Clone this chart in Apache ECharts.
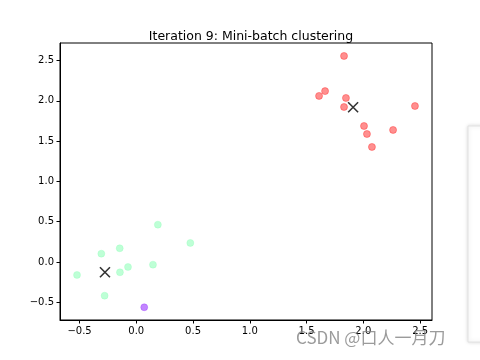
<!DOCTYPE html>
<html><head><meta charset="utf-8">
<script src="https://cdn.jsdelivr.net/npm/echarts@6/dist/echarts.min.js"></script>
<style>html,body{margin:0;padding:0;background:#fff}#c{width:480px;height:360px}</style>
</head><body><div id="c"></div>
<script>
var titleText = 'Iteration 9: Mini-batch clustering';
var xTicks = [-0.5, 0.0, 0.5, 1.0, 1.5, 2.0, 2.5];
var yTicks = [-0.5, 0.0, 0.5, 1.0, 1.5, 2.0, 2.5];
var redPoints = [[1.83,2.556],[1.663,2.12],[1.61,2.06],[1.847,2.035],[1.83,1.923],[2.006,1.687],[2.032,1.588],[2.076,1.427],[2.262,1.638],[2.455,1.935]];
var greenPoints = [[0.19,0.463],[0.476,0.236],[-0.308,0.103],[-0.146,0.17],[-0.073,-0.062],[-0.144,-0.128],[0.147,-0.033],[-0.522,-0.161],[-0.279,-0.418]];
var purplePoints = [[0.07,-0.562]];
var centroids = [[1.91,1.92],[-0.276,-0.128]];
var watermark = 'CSDN @口人一月刀';

function fmt(v){ var s = Math.abs(v).toFixed(1); return v < 0 ? '\u2212' + s : s; }
var font = 'DejaVu Sans';
var chart = echarts.init(document.getElementById('c'), null, {renderer:'canvas'});
chart.setOption({
  animation:false,
  title:{text:titleText, left:246, top:25, textAlign:'center', textStyle:{fontFamily:font, fontSize:12.5, fontWeight:'normal', color:'#000'}},
  grid:{left:60, right:48, top:43, bottom:40, show:true, borderColor:'#000', borderWidth:1},
  xAxis:{type:'value', min:-0.672, max:2.605, splitLine:{show:false},
    axisLine:{show:true, onZero:false, lineStyle:{color:'#000'}},
    axisTick:{show:true, length:3.5, lineStyle:{color:'#000'}, customValues:xTicks},
    axisLabel:{customValues:xTicks, formatter:fmt, fontFamily:font, fontSize:10, color:'#000', margin:6}},
  yAxis:{type:'value', min:-0.72, max:2.717, splitLine:{show:false},
    axisLine:{show:true, onZero:false, lineStyle:{color:'#000'}},
    axisTick:{show:true, length:3.5, lineStyle:{color:'#000'}, customValues:yTicks},
    axisLabel:{customValues:yTicks, formatter:fmt, fontFamily:font, fontSize:10, color:'#000', margin:6}},
  series:[
    {type:'scatter', data:redPoints, symbolSize:7, itemStyle:{color:'rgba(255,0,0,0.55)', borderColor:'rgba(255,0,0,0.4)', borderWidth:1}},
    {type:'scatter', data:greenPoints, symbolSize:7, itemStyle:{color:'rgba(120,255,170,0.6)', borderColor:'rgba(120,255,170,0.3)', borderWidth:1}},
    {type:'scatter', data:purplePoints, symbolSize:7, itemStyle:{color:'rgba(128,0,255,0.6)', borderColor:'rgba(128,0,255,0.3)', borderWidth:1}},
    {type:'scatter', data:centroids, symbol:'path://M0,0L10,10M10,0L0,10', symbolSize:10, itemStyle:{color:'none', borderColor:'#000', borderWidth:1.6}, z:5}
  ],
  graphic:[
    {type:'rect', shape:{x:468, y:126, width:20, height:216}, style:{fill:'#fff', stroke:'#e2e2e2', lineWidth:1, shadowBlur:4, shadowColor:'rgba(0,0,0,0.15)'}, z:10},
    {type:'text', left:296, top:329, style:{text:watermark, fontFamily:'Noto Sans CJK SC', fontSize:17, fill:'rgba(130,130,130,0.8)'}, z:11}
  ]
});
</script></body></html>
